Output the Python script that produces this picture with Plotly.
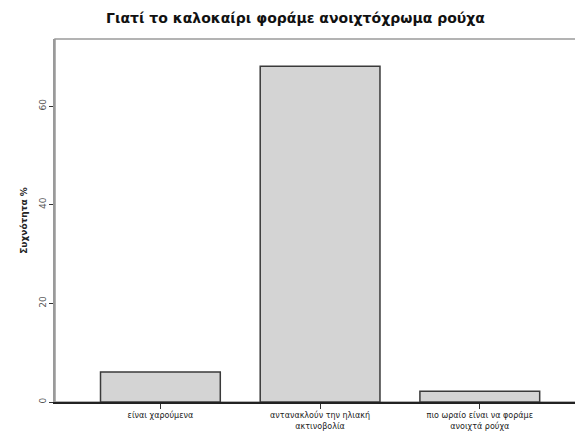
import plotly.graph_objects as go

categories = ["είναι χαρούμενα",
              "αντανακλούν την ηλιακή<br>ακτινοβολία",
              "πιο ωραίο είναι να φοράμε<br>ανοιχτά ρούχα"]
values = [6.1, 68.1, 2.2]
y_ticks = [0, 20, 40, 60]

FONT = "DejaVu Sans"

fig = go.Figure(go.Bar(
    x=list(range(len(categories))), y=values, width=0.75,
    marker=dict(color="#d4d4d4", line=dict(color="#3a3a3a", width=1.5)),
))

fig.update_layout(
    width=575, height=429,
    margin=dict(l=47, r=1, t=31, b=35),
    paper_bgcolor="white", plot_bgcolor="white",
    font=dict(family=FONT, color="#222"),
    title=dict(text="<b>Γιατί το καλοκαίρι φοράμε ανοιχτόχρωμα ρούχα</b>",
               x=0.5, xanchor="center", y=0.977, yanchor="middle",
               font=dict(size=14, color="#111", family=FONT)),
    showlegend=False,
    shapes=[dict(type="rect", xref="paper", yref="paper", x0=0, x1=1, y0=0, y1=1,
                 line=dict(color="#9a9a9a", width=1.5), fillcolor="rgba(0,0,0,0)",
                 layer="below")],
)
fig.update_xaxes(
    range=[-0.66, 2.64], tickmode="array", tickvals=list(range(len(categories))),
    ticktext=categories, ticks="outside", ticklen=5, tickcolor="#333",
    tickfont=dict(size=8, family=FONT), showgrid=False, zeroline=False, automargin=False,
    showline=True, linecolor="#222", linewidth=1.5,
)
fig.update_yaxes(
    range=[0, 73.6], tickmode="array", tickvals=y_ticks, ticktext=[str(v) for v in y_ticks],
    ticks="outside", ticklen=4, tickcolor="#333", tickangle=-90,
    tickfont=dict(size=9, family=FONT, color="#555"), showgrid=False, zeroline=False, automargin=False,
    showline=True, linecolor="#9a9a9a", linewidth=1.5,
    title=dict(text="<b>Συχνότητα %</b>", font=dict(size=9, family=FONT), standoff=9),
)

fig.write_html("out.html")
